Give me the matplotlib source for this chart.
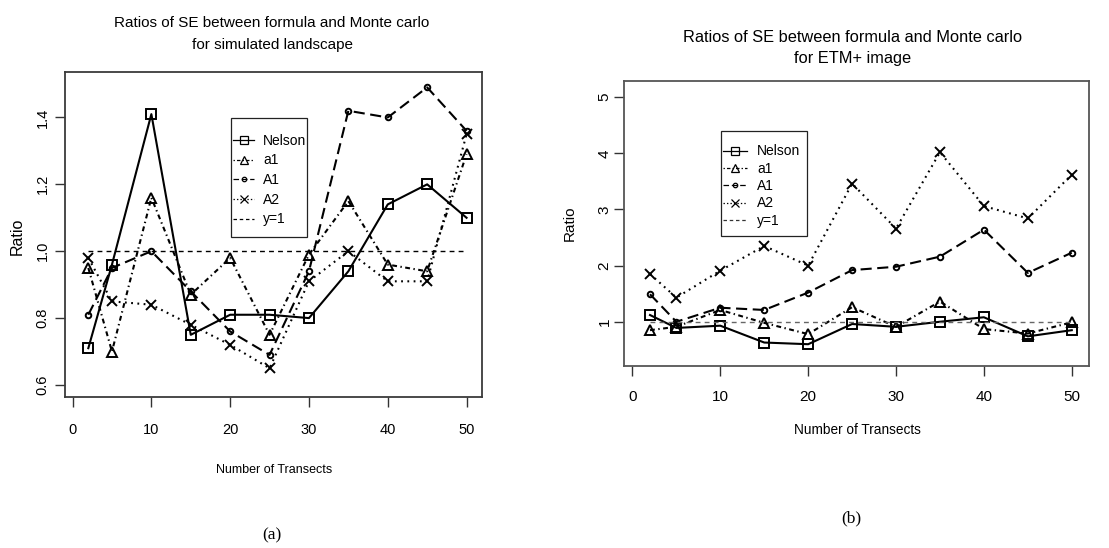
import matplotlib
matplotlib.use("Agg")
from matplotlib import pyplot as plt
from matplotlib.lines import Line2D
from matplotlib.patches import Rectangle

plt.rcParams['font.family'] = ['Liberation Sans', 'DejaVu Sans']
plt.rcParams['lines.scale_dashes'] = False

# number of transects
transects = [2, 5, 10, 15, 20, 25, 30, 35, 40, 45, 50]

# simulated landscape ratios
sim_nelson = [0.71, 0.96, 1.41, 0.75, 0.81, 0.81, 0.80, 0.94, 1.14, 1.20, 1.10]
sim_a1 = [0.95, 0.70, 1.16, 0.87, 0.98, 0.75, 0.99, 1.15, 0.96, 0.94, 1.29]
sim_A1 = [0.81, 0.95, 1.00, 0.88, 0.76, 0.69, 0.94, 1.42, 1.40, 1.49, 1.36]
sim_A2 = [0.98, 0.85, 0.84, 0.78, 0.72, 0.65, 0.91, 1.00, 0.91, 0.91, 1.35]

# ETM+ image ratios
etm_nelson = [1.12, 0.89, 0.93, 0.63, 0.60, 0.96, 0.91, 1.00, 1.08, 0.74, 0.85]
etm_a1 = [0.85, 0.91, 1.21, 0.98, 0.78, 1.26, 0.91, 1.36, 0.87, 0.79, 0.99]
etm_A1 = [1.49, 1.00, 1.25, 1.21, 1.52, 1.92, 1.98, 2.16, 2.64, 1.87, 2.23]
etm_A2 = [1.85, 1.43, 1.91, 2.35, 2.00, 3.46, 2.66, 4.02, 3.06, 2.84, 3.62]

legend_names = ["Nelson", "a1", "A1", "A2", "y=1"]
sim_yticks = [0.6, 0.8, 1.0, 1.2, 1.4]
etm_yticks = [1, 2, 3, 4, 5]
xticks = [0, 10, 20, 30, 40, 50]

W, H = 1109, 548
fig = plt.figure(figsize=(W / 100, H / 100), dpi=100)

# per method: marker, size, dashes on the plot, dashes in the legend key
styles = [
    ("s", 6.5, None, None),
    ("^", 7.0, (3.5, 2.5, 1, 2.5), (1, 1.5, 2.5, 1.5)),
    ("o", 4.0, (8, 4), (4, 2)),
    ("x", 6.5, (1.3, 3.2), (1, 1.5)),
]
serif = ["Liberation Serif", "DejaVu Serif"]


def px_box(x0, y0, x1, y1):
    return [x0 / W, 1 - y1 / H, (x1 - x0) / W, (y1 - y0) / H]


def draw_panel(ax, series, ylim, yticks, ref_color, frame_color, fontsize):
    for vals, (mk, ms, dash, _) in zip(series, styles):
        ln, = ax.plot(transects, vals, color="black", lw=1.5, marker=mk, ms=ms,
                      mfc="none", mec="black", mew=1.4)
        if dash is not None:
            ln.set_dashes(dash)
    ax.plot([transects[0], transects[-1]], [1, 1], color=ref_color, lw=1.0, dashes=(3.5, 3))
    ax.set_xlim(-0.96, 51.96)
    ax.set_ylim(*ylim)
    ax.set_xticks(xticks)
    ax.set_yticks(yticks)
    ax.set_yticklabels([str(t) for t in yticks], rotation=90, va="center")
    ax.tick_params(direction="out", length=7, width=1.0, color="#333333", labelsize=fontsize)
    for sp in ax.spines.values():
        sp.set_color(frame_color)
        sp.set_linewidth(1.3)


def add_legend(ax, box, rows_y, ref_color, size, spacing, handle_px, gap_px):
    x0, y0, x1, y1 = box
    ax.add_patch(Rectangle((x0 / W, 1 - y1 / H), (x1 - x0) / W, (y1 - y0) / H,
                           transform=fig.transFigure, facecolor="white",
                           edgecolor="#222222", lw=0.9, zorder=4, clip_on=False))
    hs = []
    for mk, ms, _, key_dash in styles:
        h = Line2D([0], [0], color="black", lw=0.9, marker=mk, ms=ms * 0.8,
                   mfc="none", mec="black", mew=0.9)
        if key_dash is not None:
            h.set_dashes(key_dash)
        hs.append(h)
    hs.append(Line2D([0], [0], color=ref_color, lw=0.9, dashes=(2.5, 2)))
    fpx = size * 100 / 72
    leg = ax.legend(hs, legend_names, loc="center left",
                    bbox_to_anchor=((x0 + 2) / W, 1 - rows_y / H),
                    bbox_transform=fig.transFigure, frameon=False,
                    handlelength=handle_px / fpx, handleheight=0.6,
                    handletextpad=gap_px / fpx, labelspacing=spacing,
                    borderpad=0, borderaxespad=0, prop={"size": size})
    leg.set_zorder(5)


# (a) simulated landscape
ax1 = fig.add_axes(px_box(65, 72, 482, 397))
draw_panel(ax1, [sim_nelson, sim_a1, sim_A1, sim_A2], (0.564, 1.536), sim_yticks,
           "black", "#3a3a3a", 10.5)
ax1.tick_params(axis="x", pad=12)
ax1.tick_params(axis="y", pad=4)
add_legend(ax1, (231, 118, 307, 237), 180, "black", 10, 0.41, 21, 9)

fig.text(272 / W, 1 - 23 / H, "Ratios of SE between formula and Monte carlo",
         ha="center", va="center", fontsize=11)
fig.text(272 / W, 1 - 45 / H, "for simulated landscape",
         ha="center", va="center", fontsize=11)
fig.text(274 / W, 1 - 470 / H, "Number of Transects", ha="center", va="center",
         fontsize=9)
fig.text(17 / W, 1 - 236 / H, "Ratio", ha="center", va="center", rotation=90,
         fontsize=11.5)
fig.text(272 / W, 1 - 535 / H, "(a)", ha="center", va="center", fontsize=12.5,
         family=serif)

# (b) ETM+ image
ax2 = fig.add_axes(px_box(624, 81, 1089, 366))
draw_panel(ax2, [etm_nelson, etm_a1, etm_A1, etm_A2], (0.212, 5.288), etm_yticks,
           "#666666", "#555555", 11)
ax2.tick_params(axis="x", pad=10)
ax2.tick_params(axis="y", pad=2)
add_legend(ax2, (721, 131, 807, 236), 186, "#333333", 10, 0.24, 24, 10)

fig.text(853 / W, 1 - 37 / H, "Ratios of SE between formula and Monte carlo",
         ha="center", va="center", fontsize=11.8)
fig.text(853 / W, 1 - 58 / H, "for ETM+ image",
         ha="center", va="center", fontsize=11.8)
fig.text(857 / W, 1 - 430 / H, "Number of Transects", ha="center", va="center",
         fontsize=9.8)
fig.text(570 / W, 1 - 223 / H, "Ratio", ha="center", va="center", rotation=90,
         fontsize=11)
fig.text(851 / W, 1 - 518 / H, "(b)", ha="center", va="center", fontsize=12.5,
         family=serif)

fig.savefig("out.png", dpi=100)
